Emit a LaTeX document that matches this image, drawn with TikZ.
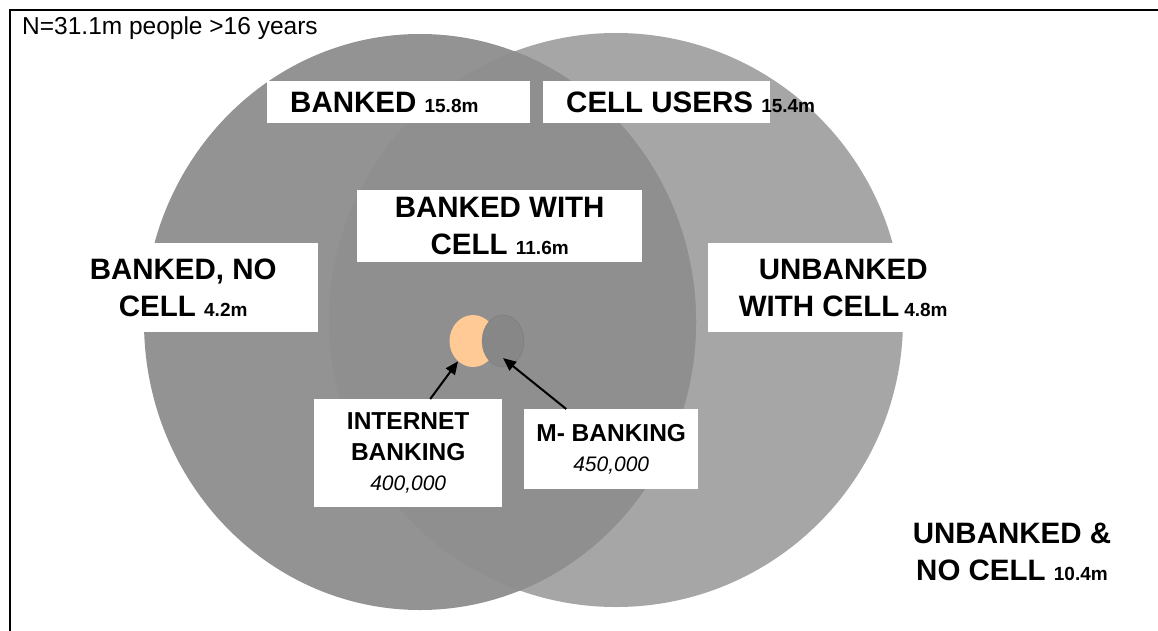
\documentclass[tikz,border=0pt]{standalone}
\usepackage{fontspec}
\setmainfont{Liberation Sans}
\usetikzlibrary{arrows.meta}
\usetikzlibrary{shapes.geometric}
\definecolor{cellgray}{HTML}{A6A6A6}
\definecolor{bankgray}{HTML}{939393}
\definecolor{bothgray}{HTML}{8F8F8F}
\definecolor{netorange}{HTML}{FFCA96}
\definecolor{mobgray}{HTML}{878787}
\newcommand{\labelfont}{\fontsize{29.5}{37}\selectfont\bfseries}
\newcommand{\subfont}{\fontsize{24.5}{30.5}\selectfont\bfseries}
\newcommand{\amt}[1]{{\fontsize{19}{23}\selectfont\bfseries #1}}
\newcommand{\cnt}[1]{{\fontsize{21}{30}\selectfont\mdseries\itshape #1}}

\begin{document}
\begin{tikzpicture}[x=1pt,y=-1pt,
  labelbox/.style={fill=white, inner sep=0pt, anchor=north west, align=center},
  arr/.style={line width=2pt, -{Triangle[length=13pt,width=11pt]}}]
\useasboundingbox (0,0) rectangle (1158,631);
\fill [white] (0,0) rectangle (1158,631);

% frame
\draw [line width=1.3pt] (10,631) -- (10,10) -- (1158,10);
\node [anchor=base west, inner sep=0pt, font=\fontsize{24.5}{29}\selectfont] (total) at (22,35) {N=31.1m people >16 years};

% the two sets
\fill [cellgray] (616,320) ellipse [x radius=287, y radius=287];
\fill [bankgray] (420,322) ellipse [x radius=276, y radius=288];
\begin{scope}
  \clip (616,320) ellipse [x radius=287, y radius=287];
  \fill [bothgray] (420,322) ellipse [x radius=276, y radius=288];
\end{scope}

% labels
\node [labelbox, inner xsep=23pt, minimum height=42pt, font=\labelfont] (banked) at (267,81)
  {\makebox[217pt][l]{BANKED \amt{15.8m}}};
\node [labelbox, inner xsep=23pt, minimum height=42pt, font=\labelfont] (cell) at (543,81)
  {\makebox[181pt][l]{CELL USERS \amt{15.4m}}};
\node [labelbox, minimum width=285pt, minimum height=72pt, font=\labelfont] (both) at (357,190)
  {BANKED WITH\\CELL \amt{11.6m}};
\node [labelbox, minimum width=270pt, minimum height=89pt, font=\labelfont] (bankonly) at (48,243)
  {BANKED, NO\\CELL \amt{4.2m}};
\node [labelbox, minimum width=270pt, minimum height=89pt, font=\labelfont] (cellonly) at (708,243)
  {UNBANKED\\WITH CELL\,\amt{4.8m}};
\node [align=center, inner sep=0pt, font=\labelfont] (none) at (1012,552)
  {UNBANKED \&\\NO CELL \amt{10.4m}};

% small sets
\node [ellipse, fill=netorange, inner sep=0pt, minimum width=47pt, minimum height=52pt] (netdot) at (473,341) {};
\node [ellipse, fill=mobgray, draw=gray!90!black, very thin, inner sep=0pt, minimum width=42pt, minimum height=52pt] (mobdot) at (503,341) {};

\node [labelbox, minimum width=188pt, minimum height=108pt, font=\subfont] (netbox) at (314,399)
  {INTERNET\\BANKING\\\cnt{400,000}};
\node [labelbox, minimum width=174pt, minimum height=80pt, font=\subfont] (mobbox) at (524,409)
  {M- BANKING\\\cnt{450,000}};

\draw [arr] ([xshift=22pt]netbox.north) -- (netdot);
\draw [arr] ([xshift=-45pt]mobbox.north) -- ([yshift=9pt]mobdot.south);
\end{tikzpicture}
\end{document}
